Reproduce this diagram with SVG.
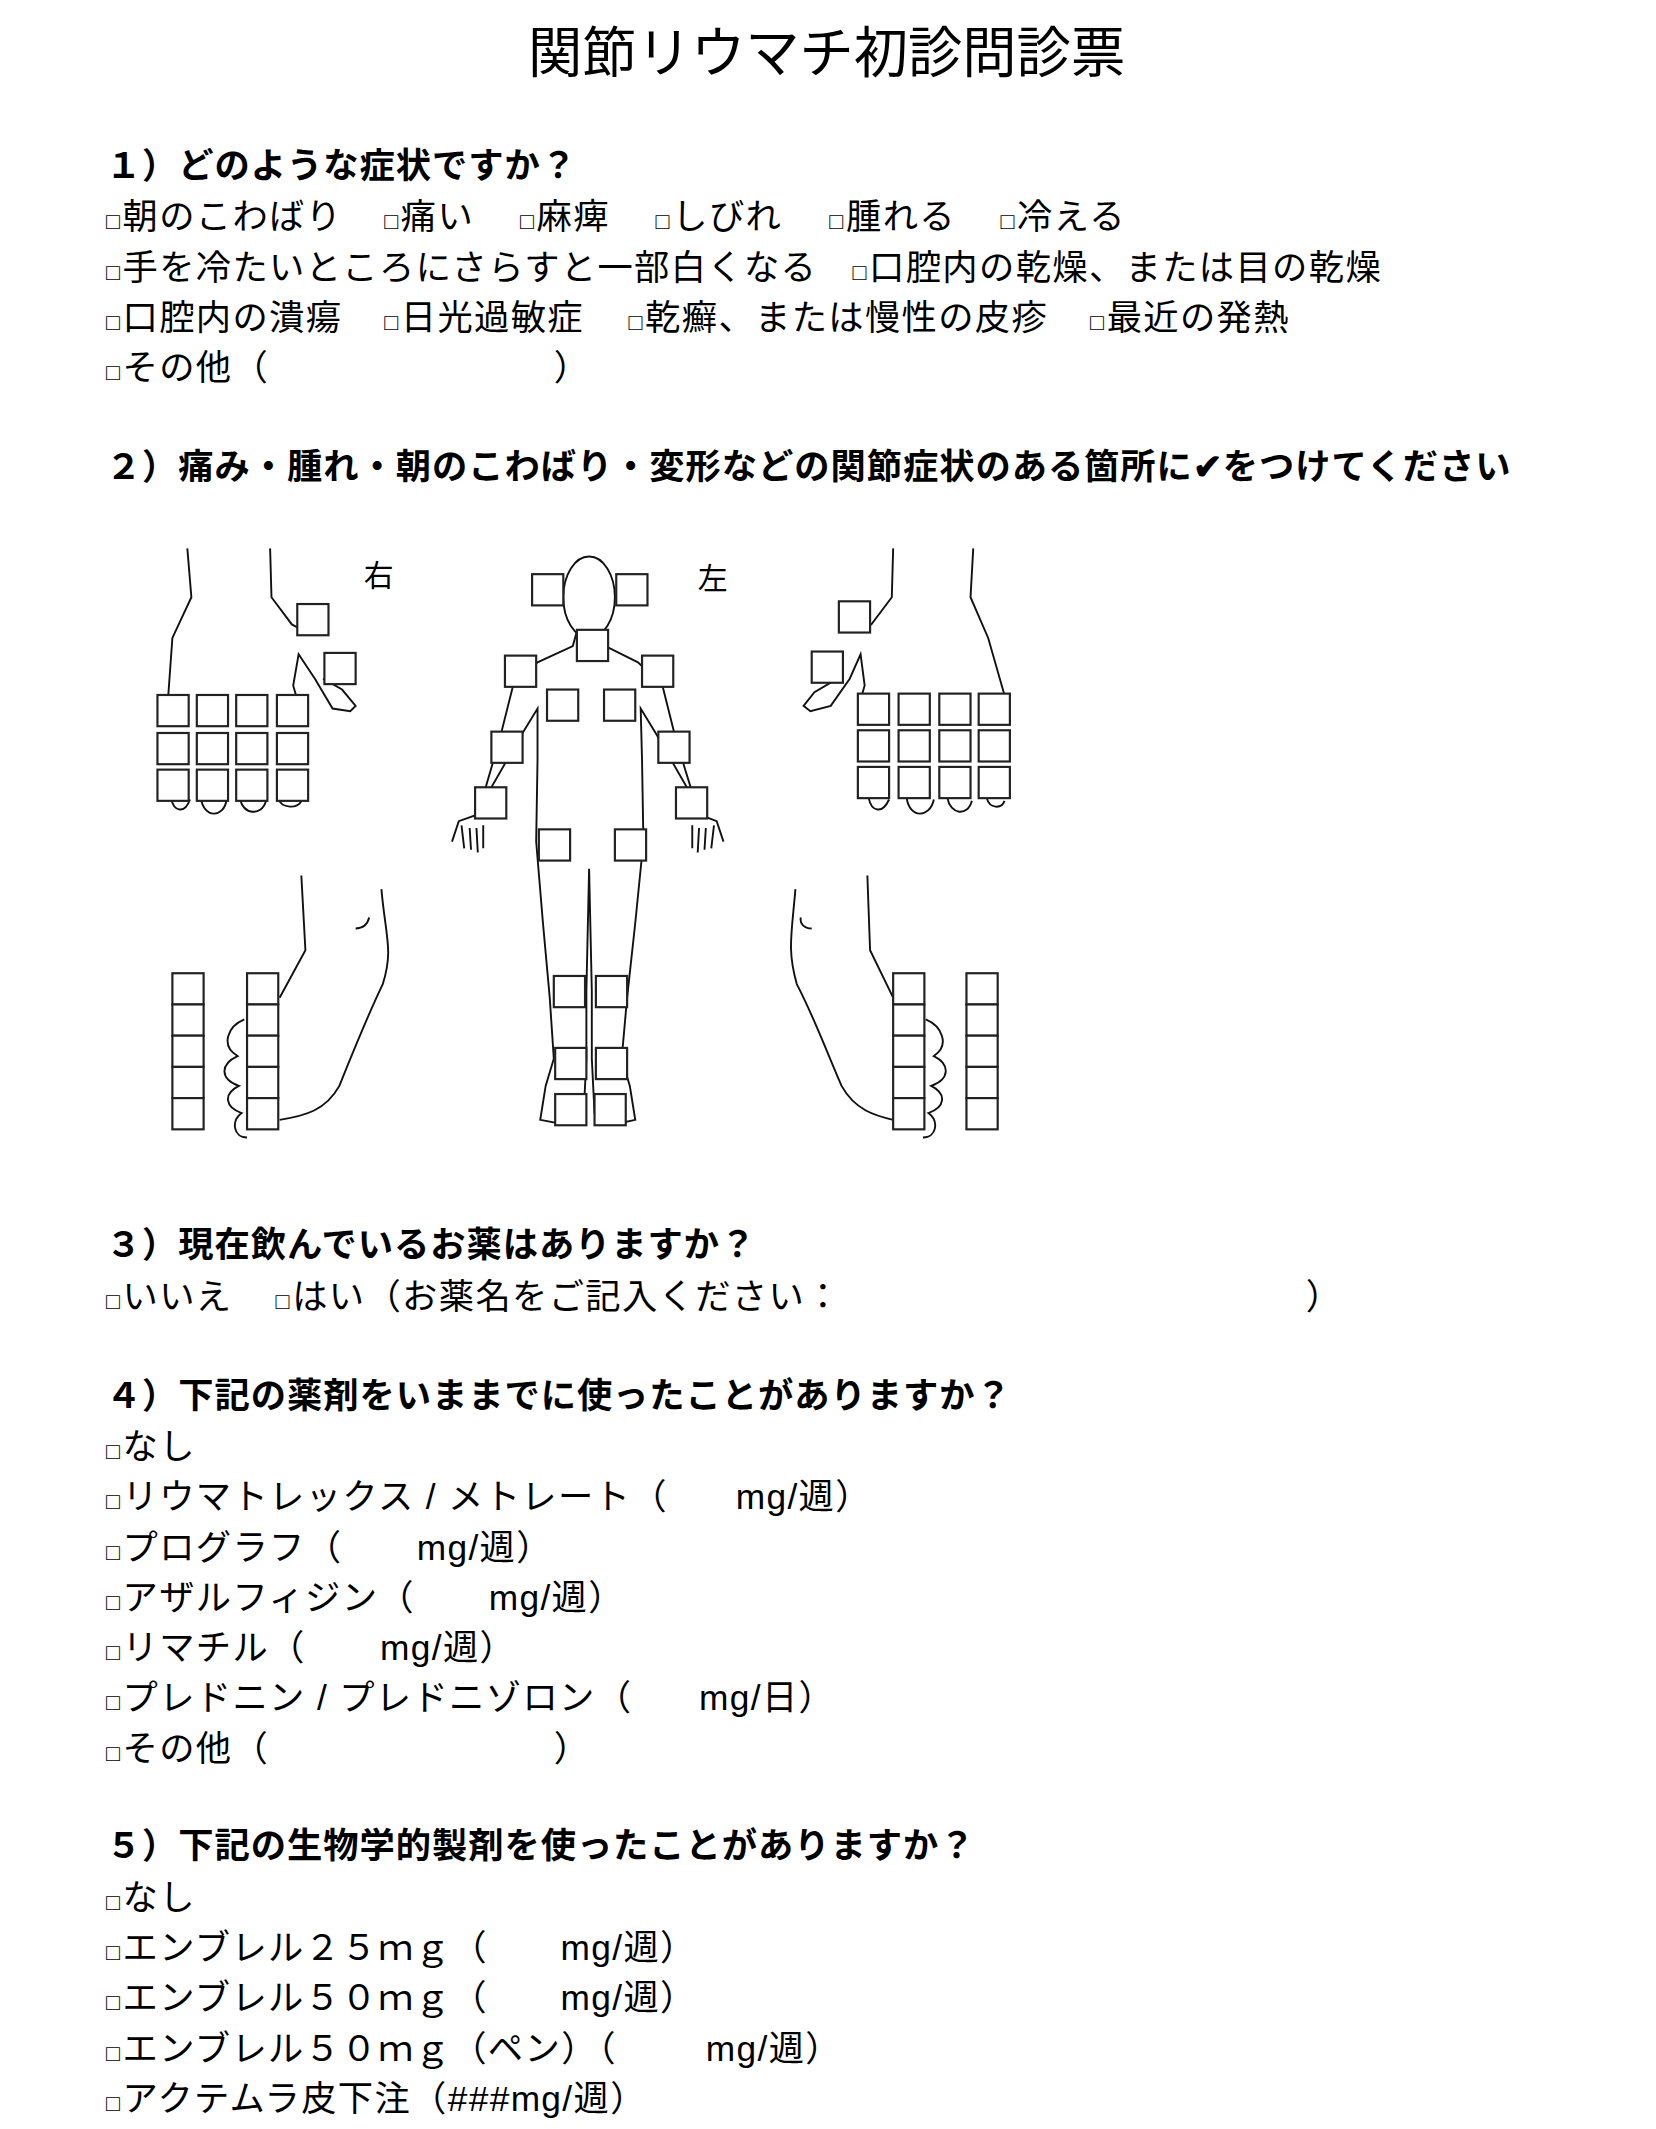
<svg xmlns="http://www.w3.org/2000/svg" width="1656" height="2129" viewBox="0 0 1656 2129">
<style>
text{font-family:"Liberation Sans","Noto Sans CJK JP",sans-serif;fill:#000}
.t{font-size:26px;letter-spacing:1px}
.h{font-size:26px;font-weight:bold;letter-spacing:0.7px}
.ti{font-size:40px;font-family:"Noto Sans CJK JP",sans-serif}
.b{font-size:17px;letter-spacing:2px}
.bx{fill:#fff;stroke:#222;stroke-width:1.6}
.ol{fill:none;stroke:#111;stroke-width:1.4}
</style>
<rect width="1656" height="2129" fill="#fff"/>
<g transform="scale(1.35738)">
<g id="title"><text class="ti" x="609" y="53" text-anchor="middle">関節リウマチ初診問診票</text></g>
<g id="q1">
<text class="h" x="78" y="131">１）どのような症状ですか？</text>
<text class="t" y="169"><tspan x="78" class="b">□</tspan>朝のこわばり<tspan x="283" class="b">□</tspan>痛い<tspan x="383" class="b">□</tspan>麻痺<tspan x="483" class="b">□</tspan>しびれ<tspan x="611" class="b">□</tspan>腫れる<tspan x="737" class="b">□</tspan>冷える</text>
<text class="t" y="206"><tspan x="78" class="b">□</tspan>手を冷たいところにさらすと一部白くなる<tspan x="628" class="b">□</tspan>口腔内の乾燥、または目の乾燥</text>
<text class="t" y="243"><tspan x="78" class="b">□</tspan>口腔内の潰瘍<tspan x="283" class="b">□</tspan>日光過敏症<tspan x="463" class="b">□</tspan>乾癬、または慢性の皮疹<tspan x="803" class="b">□</tspan>最近の発熱</text>
<text class="t" y="280"><tspan x="78" class="b">□</tspan>その他（<tspan x="408">）</tspan></text>
</g>
<g id="q2"><text class="h" x="78" y="353">２）痛み・腫れ・朝のこわばり・変形などの関節症状のある箇所に✔をつけてください</text></g>
<g id="figure">
<text x="268" y="432" style="font-size:22px;font-family:'Noto Sans CJK JP',sans-serif">右</text>
<text x="514" y="434" style="font-size:22px;font-family:'Noto Sans CJK JP',sans-serif">左</text>
<path class="ol" d="M138,404 L141,440 L127,470 L124,512 M199,404 L200,440 L215,460 L226,466 M238,500 L252,508 L262,520 L258,524 L245,522 L232,500 L220,482 L216,505 L218,512 M126,588 C128,598 136,600 140,589 M148,588 C150,603 165,603 167,589 M177,588 C178,600 193,602 196,590 M205,588 C207,596 220,596 222,590"/>
<path class="ol" d="M717,404 L715,440 L728,470 L740,512 M658,404 L657,440 L642,460 L632,466 M617,500 L600,510 L592,520 L597,524 L612,520 L626,500 L634,482 L637,505 L635,512 M640,588 C642,598 650,600 655,589 M668,588 C670,603 685,603 688,589 M698,588 C700,600 713,602 716,590 M727,588 C729,596 738,596 740,590"/>
<ellipse class="ol" cx="434" cy="440" rx="19" ry="30"/>
<path class="ol" d="M425,465 L422,476 L396,488 L378,505 L368,545 L352,600 L338,605 L333,620 M340,608 L342,625 M346,610 L347,626 M351,610 L352,628 M356,608 L356,625 M358,600 L362,580 L385,540 L396,522 L396,560 L395,620 L400,680 L405,735 L408,780 L402,800 L398,825 L414,828 L430,820 L432,780 L432,730 L434,640 L436,730 L436,780 L438,820 L454,828 L468,825 L464,800 L458,780 L462,735 L468,680 L474,620 L473,560 L472,522 L483,540 L506,580 L510,600 M444,465 L446,476 L470,488 L488,505 L498,545 L515,600 L528,605 L533,620 M526,608 L524,625 M520,610 L519,626 M515,610 L514,628 M510,608 L510,625"/>
<path class="ol" d="M222,645 L225,700 L206,735 M281,655 C284,690 290,700 282,725 C270,750 262,770 250,800 C240,818 225,822 206,825 M262,684 C268,684 271,680 272,676 M180,751 C168,756 162,770 175,778 C162,784 162,795 176,800 C164,806 166,816 178,820 C170,826 172,838 182,838"/>
<path class="ol" d="M639,645 L641,700 L658,735 M586,655 C583,690 580,700 587,725 C600,750 607,770 620,800 C630,818 645,822 658,825 M598,684 C592,684 589,680 590,676 M682,751 C694,756 700,770 688,778 C700,784 700,795 686,800 C698,806 696,816 684,820 C692,826 690,838 680,838"/>
<g id="boxes">
<rect class="bx" x="219" y="445" width="23" height="23"/><rect class="bx" x="239" y="481" width="23" height="23"/>
<rect class="bx" x="116" y="512" width="23" height="23"/><rect class="bx" x="145" y="512" width="23" height="23"/><rect class="bx" x="174" y="512" width="23" height="23"/><rect class="bx" x="204" y="512" width="23" height="23"/>
<rect class="bx" x="116" y="540" width="23" height="23"/><rect class="bx" x="145" y="540" width="23" height="23"/><rect class="bx" x="174" y="540" width="23" height="23"/><rect class="bx" x="204" y="540" width="23" height="23"/>
<rect class="bx" x="116" y="567" width="23" height="23"/><rect class="bx" x="145" y="567" width="23" height="23"/><rect class="bx" x="174" y="567" width="23" height="23"/><rect class="bx" x="204" y="567" width="23" height="23"/>
<rect class="bx" x="618" y="443" width="23" height="23"/><rect class="bx" x="598" y="480" width="23" height="23"/>
<rect class="bx" x="632" y="511" width="23" height="23"/><rect class="bx" x="662" y="511" width="23" height="23"/><rect class="bx" x="692" y="511" width="23" height="23"/><rect class="bx" x="721" y="511" width="23" height="23"/>
<rect class="bx" x="632" y="538" width="23" height="23"/><rect class="bx" x="662" y="538" width="23" height="23"/><rect class="bx" x="692" y="538" width="23" height="23"/><rect class="bx" x="721" y="538" width="23" height="23"/>
<rect class="bx" x="632" y="565" width="23" height="23"/><rect class="bx" x="662" y="565" width="23" height="23"/><rect class="bx" x="692" y="565" width="23" height="23"/><rect class="bx" x="721" y="565" width="23" height="23"/>
<rect class="bx" x="392" y="423" width="23" height="23"/><rect class="bx" x="454" y="423" width="23" height="23"/>
<rect class="bx" x="425" y="464" width="23" height="23"/>
<rect class="bx" x="372" y="483" width="23" height="23"/><rect class="bx" x="473" y="483" width="23" height="23"/>
<rect class="bx" x="403" y="508" width="23" height="23"/><rect class="bx" x="445" y="508" width="23" height="23"/>
<rect class="bx" x="362" y="539" width="23" height="23"/><rect class="bx" x="485" y="539" width="23" height="23"/>
<rect class="bx" x="350" y="580" width="23" height="23"/><rect class="bx" x="498" y="580" width="23" height="23"/>
<rect class="bx" x="397" y="611" width="23" height="23"/><rect class="bx" x="453" y="611" width="23" height="23"/>
<rect class="bx" x="408" y="719" width="23" height="23"/><rect class="bx" x="439" y="719" width="23" height="23"/>
<rect class="bx" x="409" y="772" width="23" height="23"/><rect class="bx" x="439" y="772" width="23" height="23"/>
<rect class="bx" x="409" y="806" width="23" height="23"/><rect class="bx" x="438" y="806" width="23" height="23"/>
<rect class="bx" x="127" y="717" width="23" height="23"/><rect class="bx" x="127" y="740" width="23" height="23"/><rect class="bx" x="127" y="763" width="23" height="23"/><rect class="bx" x="127" y="786" width="23" height="23"/><rect class="bx" x="127" y="809" width="23" height="23"/>
<rect class="bx" x="182" y="717" width="23" height="23"/><rect class="bx" x="182" y="740" width="23" height="23"/><rect class="bx" x="182" y="763" width="23" height="23"/><rect class="bx" x="182" y="786" width="23" height="23"/><rect class="bx" x="182" y="809" width="23" height="23"/>
<rect class="bx" x="658" y="717" width="23" height="23"/><rect class="bx" x="658" y="740" width="23" height="23"/><rect class="bx" x="658" y="763" width="23" height="23"/><rect class="bx" x="658" y="786" width="23" height="23"/><rect class="bx" x="658" y="809" width="23" height="23"/>
<rect class="bx" x="712" y="717" width="23" height="23"/><rect class="bx" x="712" y="740" width="23" height="23"/><rect class="bx" x="712" y="763" width="23" height="23"/><rect class="bx" x="712" y="786" width="23" height="23"/><rect class="bx" x="712" y="809" width="23" height="23"/>
</g>
</g>
<g id="q3">
<text class="h" x="78" y="926">３）現在飲んでいるお薬はありますか？</text>
<text class="t" y="964"><tspan x="78" class="b">□</tspan>いいえ<tspan x="203" class="b">□</tspan>はい（お薬名をご記入ください：<tspan x="962">）</tspan></text>
</g>
<g id="q4">
<text class="h" x="78" y="1037">４）下記の薬剤をいままでに使ったことがありますか？</text>
<text class="t" y="1075"><tspan x="78" class="b">□</tspan>なし</text>
<text class="t" y="1112"><tspan x="78" class="b">□</tspan>リウマトレックス / メトレート（<tspan x="542">mg/週）</tspan></text>
<text class="t" y="1149"><tspan x="78" class="b">□</tspan>プログラフ（<tspan x="307">mg/週）</tspan></text>
<text class="t" y="1186"><tspan x="78" class="b">□</tspan>アザルフィジン（<tspan x="360">mg/週）</tspan></text>
<text class="t" y="1223"><tspan x="78" class="b">□</tspan>リマチル（<tspan x="280">mg/週）</tspan></text>
<text class="t" y="1260"><tspan x="78" class="b">□</tspan>プレドニン / プレドニゾロン（<tspan x="515">mg/日）</tspan></text>
<text class="t" y="1297"><tspan x="78" class="b">□</tspan>その他（<tspan x="408">）</tspan></text>
</g>
<g id="q5">
<text class="h" x="78" y="1369">５）下記の生物学的製剤を使ったことがありますか？</text>
<text class="t" y="1407"><tspan x="78" class="b">□</tspan>なし</text>
<text class="t" y="1444"><tspan x="78" class="b">□</tspan>エンブレル２５ｍｇ（<tspan x="413">mg/週）</tspan></text>
<text class="t" y="1481"><tspan x="78" class="b">□</tspan>エンブレル５０ｍｇ（<tspan x="413">mg/週）</tspan></text>
<text class="t" y="1518"><tspan x="78" class="b">□</tspan>エンブレル５０ｍｇ（ペン）（<tspan x="520">mg/週）</tspan></text>
<text class="t" y="1555"><tspan x="78" class="b">□</tspan>アクテムラ皮下注（###mg/週）</text>
</g>
</g>
</svg>
